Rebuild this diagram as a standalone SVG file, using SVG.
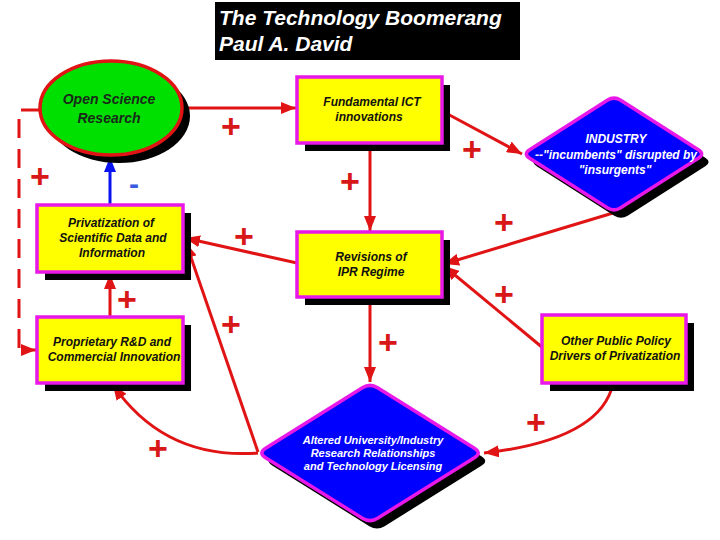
<svg xmlns="http://www.w3.org/2000/svg" width="720" height="540" viewBox="0 0 720 540">
<style>
.shadow{fill:#000}
.box{fill:#ffff00;stroke:#e818e8;stroke-width:3.5}
.dia{fill:#0000ff;stroke:#e818e8;stroke-width:3.5}
.btxt{font-family:"Liberation Sans",Arial,sans-serif;font-weight:bold;font-style:italic;font-size:12px;fill:#111;text-anchor:middle}
.wtxt{font-family:"Liberation Sans",Arial,sans-serif;font-weight:bold;font-style:italic;font-size:12px;fill:#fff;text-anchor:middle}
.conn{fill:none;stroke:#e01414;stroke-width:3}
.blue{fill:none;stroke:#0a14f0;stroke-width:3}
.plus{font-family:"Liberation Sans",Arial,sans-serif;font-weight:bold;font-size:34px;fill:#d81818;text-anchor:middle}
.minus{font-family:"Liberation Sans",Arial,sans-serif;font-weight:bold;font-size:30px;fill:#3a5adf;text-anchor:middle}
</style>
<defs>
<marker id="ar" markerUnits="userSpaceOnUse" markerWidth="16" markerHeight="12" refX="15" refY="6" orient="auto">
<path d="M0,0 L15,6 L0,12 z" fill="#e01414"/>
</marker>
<marker id="ab" markerUnits="userSpaceOnUse" markerWidth="16" markerHeight="12" refX="15" refY="6" orient="auto">
<path d="M0,0 L15,6 L0,12 z" fill="#0a14f0"/>
</marker>
</defs>
<rect width="720" height="540" fill="#fff"/>

<g id="title">
<rect x="215" y="2" width="305" height="58" fill="#000"/>
<text x="219" y="25" font-family="'Liberation Sans',Arial,sans-serif" font-weight="bold" font-style="italic" font-size="21" fill="#fff">The Technology Boomerang</text>
<text x="219" y="51" font-family="'Liberation Sans',Arial,sans-serif" font-weight="bold" font-style="italic" font-size="21" fill="#fff">Paul A. David</text>
</g>

<g id="connectors">
<path class="conn" d="M183,108 H296" marker-end="url(#ar)"/>
<path class="conn" d="M442,111 L522,154" marker-end="url(#ar)"/>
<path class="conn" d="M370,144 V231" marker-end="url(#ar)"/>
<path class="conn" d="M613,213 L444,264" marker-end="url(#ar)"/>
<path class="conn" d="M543,348 L444,266" marker-end="url(#ar)"/>
<path class="conn" d="M297,263 L185,238" marker-end="url(#ar)"/>
<path class="conn" d="M370,298 V382" marker-end="url(#ar)"/>
<path class="conn" d="M258,452 L186,243" marker-end="url(#ar)"/>
<path class="conn" d="M258,453 Q165,460 113,385" marker-end="url(#ar)"/>
<path class="conn" d="M613,384 Q600,440 484,453" marker-end="url(#ar)"/>
<path class="conn" d="M110,317 V274" marker-end="url(#ar)"/>
<path class="blue" d="M110,205 V157" marker-end="url(#ab)"/>
<path class="conn" d="M40,110 H19 V350 H36" stroke-dasharray="19,11" marker-end="url(#ar)"/>
</g>

<g id="open-science">
<ellipse cx="119" cy="116" rx="71" ry="47" class="shadow"/>
<ellipse cx="111" cy="108" rx="71" ry="47" fill="#00e000" stroke="#e01414" stroke-width="3.5"/>
<text x="109" y="104" font-family="'Liberation Sans',Arial,sans-serif" font-weight="bold" font-style="italic" font-size="14" fill="#1a2a1a" text-anchor="middle">Open Science</text>
<text x="109" y="123" font-family="'Liberation Sans',Arial,sans-serif" font-weight="bold" font-style="italic" font-size="14" fill="#1a2a1a" text-anchor="middle">Research</text>
</g>

<g id="fundamental-ict">
<rect x="305" y="85" width="145" height="66" class="shadow"/>
<rect x="297" y="77" width="145" height="66" class="box"/>
<text x="372" y="106" class="btxt">Fundamental ICT</text>
<text x="369" y="121" class="btxt">innovations</text>
</g>

<g id="revisions-ipr">
<rect x="305" y="240" width="145" height="65" class="shadow"/>
<rect x="297" y="232" width="145" height="65" class="box"/>
<text x="371" y="261" class="btxt">Revisions of</text>
<text x="371" y="276" class="btxt">IPR Regime</text>
</g>

<g id="privatization">
<rect x="45" y="213" width="146" height="67" class="shadow"/>
<rect x="37" y="205" width="146" height="67" class="box"/>
<text x="111" y="227" class="btxt">Privatization of</text>
<text x="113" y="242" class="btxt">Scientific Data and</text>
<text x="112" y="257" class="btxt">Information</text>
</g>

<g id="proprietary">
<rect x="45" y="325" width="146" height="66" class="shadow"/>
<rect x="37" y="317" width="146" height="66" class="box"/>
<text x="112" y="346" class="btxt">Proprietary R&amp;D and</text>
<text x="114" y="361" class="btxt">Commercial Innovation</text>
</g>

<g id="other-policy">
<rect x="550" y="323" width="144" height="68" class="shadow"/>
<rect x="542" y="315" width="144" height="68" class="box"/>
<text x="616" y="345" class="btxt">Other Public Policy</text>
<text x="615" y="360" class="btxt">Drivers of Privatization</text>
</g>

<g id="industry">
<path class="shadow" transform="translate(7,8)" d="M529.7,149.7 L607.3,100.3 Q614,96 620.7,100.3 L698.3,149.7 Q705,154 698.3,158.3 L620.7,207.7 Q614,212 607.3,207.7 L529.7,158.3 Q523,154 529.7,149.7 Z"/>
<path class="dia" d="M529.7,149.7 L607.3,100.3 Q614,96 620.7,100.3 L698.3,149.7 Q705,154 698.3,158.3 L620.7,207.7 Q614,212 607.3,207.7 L529.7,158.3 Q523,154 529.7,149.7 Z"/>
<text x="616" y="143" class="wtxt">INDUSTRY</text>
<text x="616" y="159" class="wtxt">--"incumbents" disrupted by</text>
<text x="615" y="174" class="wtxt">"insurgents"</text>
</g>

<g id="altered">
<path class="shadow" transform="translate(7,8)" d="M265.6,448.2 L362.4,387.8 Q370,383 377.6,387.8 L474.4,448.2 Q482,453 474.4,457.8 L377.6,518.2 Q370,523 362.4,518.2 L265.6,457.8 Q258,453 265.6,448.2 Z"/>
<path class="dia" d="M265.6,448.2 L362.4,387.8 Q370,383 377.6,387.8 L474.4,448.2 Q482,453 474.4,457.8 L377.6,518.2 Q370,523 362.4,518.2 L265.6,457.8 Q258,453 265.6,448.2 Z"/>
<text x="373" y="444" class="wtxt" font-size="11" style="font-size:11px">Altered University/Industry</text>
<text x="373" y="457" class="wtxt" style="font-size:11px">Research Relationships</text>
<text x="373" y="470" class="wtxt" style="font-size:11px">and Technology Licensing</text>
</g>

<g id="signs">
<text x="231" y="138" class="plus">+</text>
<text x="472" y="161" class="plus">+</text>
<text x="350" y="193" class="plus">+</text>
<text x="40" y="188" class="plus">+</text>
<text x="504" y="234" class="plus">+</text>
<text x="244" y="248" class="plus">+</text>
<text x="127" y="311" class="plus">+</text>
<text x="231" y="336" class="plus">+</text>
<text x="388" y="354" class="plus">+</text>
<text x="504" y="306" class="plus">+</text>
<text x="536" y="434" class="plus">+</text>
<text x="158" y="460" class="plus">+</text>
<text x="134" y="194" class="minus">-</text>
</g>
</svg>
